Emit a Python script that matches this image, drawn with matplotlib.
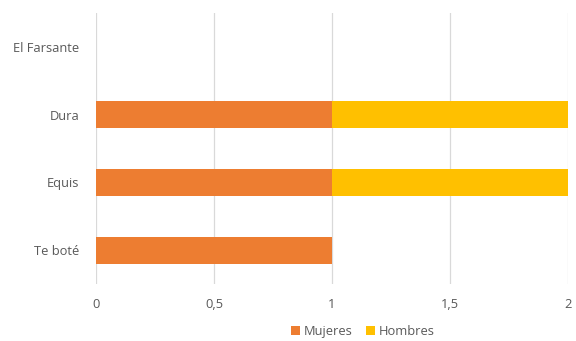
import matplotlib.pyplot as plt
from matplotlib.ticker import FuncFormatter

# data
canciones = ['Te boté', 'Equis', 'Dura', 'El Farsante']
mujeres = [1, 1, 1, 0]
hombres = [0, 1, 1, 0]
ticks_x = [0, 0.5, 1, 1.5, 2]

plt.rcParams['font.family'] = ['Open Sans', 'DejaVu Sans']

fig = plt.figure(figsize=(5.76, 3.41), dpi=100)
ax = fig.add_axes([0.1667, 0.167, 0.8193, 0.795])

pos = range(len(canciones))
ax.barh(pos, mujeres, height=0.4, color='#ED7D31', label='Mujeres', zorder=3)
ax.barh(pos, hombres, left=mujeres, height=0.4, color='#FFC000', label='Hombres', zorder=3)

ax.set_xlim(0, 2)
ax.set_ylim(-0.5, len(canciones) - 0.5)
ax.set_xticks(ticks_x)
ax.xaxis.set_major_formatter(FuncFormatter(lambda v, p: f'{v:g}'.replace('.', ',')))
ax.set_yticks(list(pos))
ax.set_yticklabels(canciones)
ax.grid(axis='x', color='#d9d9d9', linewidth=0.9, zorder=0)
for s in ax.spines.values():
    s.set_visible(False)
ax.tick_params(length=0, colors='#595959', labelsize=9.3)
ax.tick_params(axis='x', pad=10)
ax.tick_params(axis='y', pad=12)

fig.legend(loc='lower center', bbox_to_anchor=(0.63, -0.025), ncol=2, frameon=False,
           fontsize=9.3, handlelength=0.7, handleheight=0.7, handletextpad=0.3,
           columnspacing=1.0, labelcolor='#595959')

fig.savefig('out.png', dpi=100)
